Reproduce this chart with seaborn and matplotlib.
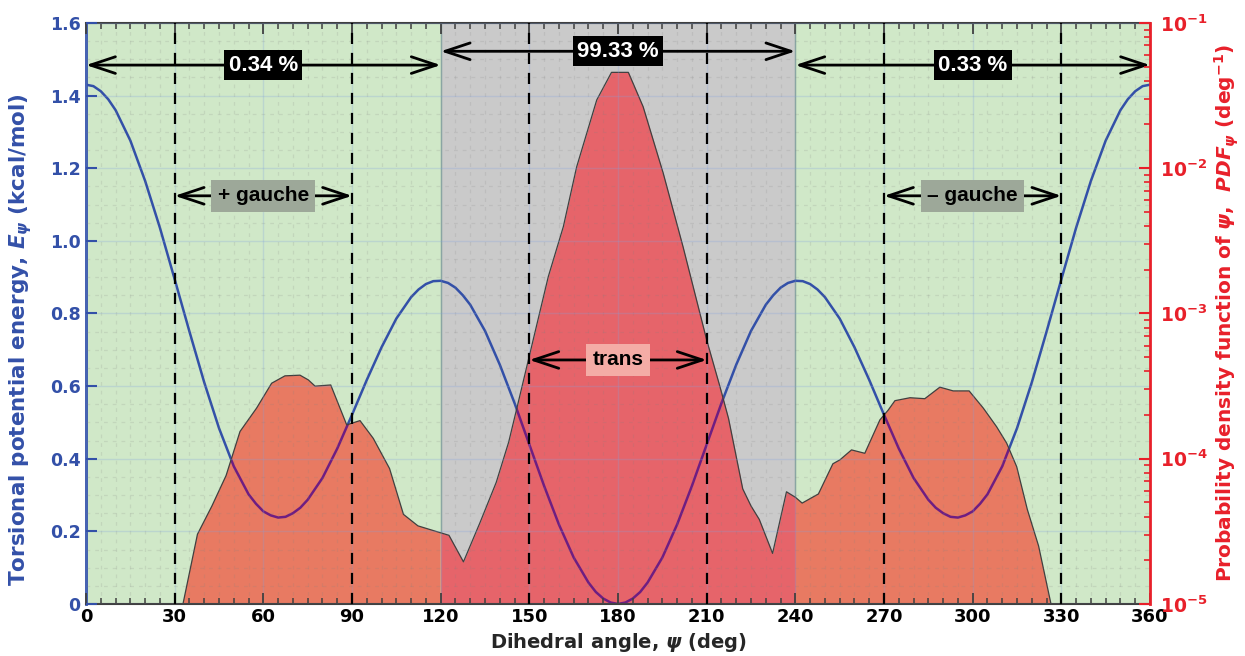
import numpy as np
import seaborn as sns
import matplotlib.pyplot as plt
from matplotlib.ticker import MultipleLocator, FuncFormatter, NullFormatter, LogLocator

sns.set_style('white')
plt.rcParams['font.family'] = ['DejaVu Sans']
plt.rcParams['font.weight'] = 'bold'
plt.rcParams['axes.labelweight'] = 'bold'
plt.rcParams['mathtext.fontset'] = 'custom'
plt.rcParams['mathtext.rm'] = 'DejaVu Sans:bold'
plt.rcParams['mathtext.it'] = 'DejaVu Sans:italic:bold'
plt.rcParams['mathtext.bf'] = 'DejaVu Sans:bold'

# torsional potential energy (kcal/mol)
angle_e = [0, 2.5, 5, 7.5, 10, 15, 20, 25, 30, 35, 40, 45, 50, 55, 57.5, 60, 62.5, 65,
           67.5, 70, 72.5, 75, 80, 85, 90, 95, 100, 105, 110, 112.5, 115, 117.5, 120,
           122.5, 125, 127.5, 130, 135, 140, 145, 150, 155, 160, 165, 170, 172.5, 175,
           177.5, 180,
           182.5, 185, 187.5, 190, 195, 200, 205, 210, 215, 220, 225, 230, 232.5, 235,
           237.5, 240, 242.5, 245, 247.5, 250, 255, 260, 265, 270, 275, 280, 285,
           287.5, 290, 292.5, 295, 297.5, 300, 302.5, 305, 310, 315, 320, 325, 330,
           335, 340, 345, 350, 352.5, 355, 357.5, 360]
energy = [1.430, 1.426, 1.412, 1.390, 1.360, 1.276, 1.165, 1.036, 0.894, 0.750, 0.610,
          0.484, 0.379, 0.302, 0.276, 0.255, 0.244, 0.238, 0.240, 0.250, 0.265, 0.287,
          0.347, 0.428, 0.521, 0.617, 0.707, 0.786, 0.845, 0.866, 0.881, 0.889, 0.890,
          0.884, 0.871, 0.850, 0.824, 0.752, 0.659, 0.553, 0.439, 0.325, 0.219, 0.128,
          0.059, 0.033, 0.015, 0.004, 0.000,
          0.004, 0.015, 0.033, 0.059, 0.128, 0.219, 0.325, 0.439, 0.553, 0.659, 0.752,
          0.824, 0.850, 0.871, 0.884, 0.890, 0.889, 0.881, 0.866, 0.845, 0.786, 0.707,
          0.617, 0.521, 0.428, 0.347, 0.287, 0.265, 0.250, 0.240, 0.238, 0.244, 0.255,
          0.276, 0.302, 0.379, 0.484, 0.610, 0.750, 0.894, 1.036, 1.165, 1.276, 1.360,
          1.390, 1.412, 1.426, 1.430]

# probability density of psi (deg^-1)
angle_p = [32.8, 37.7, 42.6, 47.4, 52.1, 57.7, 62.8, 67.3, 72.4, 75.2, 77.5, 82.8,
           88.2, 92.7, 97.2, 102.7, 107.4, 112.3, 120.0, 122.8, 127.7, 133.3, 138.8,
           143.0, 145.8, 150.2, 156.4, 161.5, 166.0, 172.8, 177.8, 183.5, 188.5,
           195.3, 202.0, 210.0, 214.5, 217.4, 222.2, 225.0, 227.8, 232.3, 237.0,
           240.0, 242.3, 247.8, 252.7, 255.1, 259.0, 263.5, 268.6, 271.4, 273.7,
           278.8, 283.8, 288.9, 293.4, 298.8, 303.6, 308.1, 311.5, 314.9, 318.5,
           322.3, 326.5]
pdf = [1.0e-5, 3.02e-5, 4.73e-5, 7.67e-5, 1.54e-4, 2.23e-4, 3.31e-4, 3.72e-4, 3.76e-4,
       3.49e-4, 3.16e-4, 3.22e-4, 1.71e-4, 1.83e-4, 1.38e-4, 8.56e-5, 4.14e-5, 3.45e-5,
       3.09e-5, 2.97e-5, 1.95e-5, 3.63e-5, 6.88e-5, 1.30e-4, 2.24e-4, 5.31e-4, 1.79e-3,
       3.96e-3, 1.02e-2, 2.95e-2, 4.57e-2, 4.57e-2, 2.65e-2, 9.23e-3, 2.88e-3, 6.57e-4,
       3.13e-4, 1.89e-4, 6.20e-5, 4.73e-5, 3.82e-5, 2.23e-5, 5.92e-5, 5.43e-5, 4.95e-5,
       5.72e-5, 9.23e-5, 9.83e-5, 1.15e-4, 1.09e-4, 1.85e-4, 2.16e-4, 2.51e-4, 2.63e-4,
       2.59e-4, 3.11e-4, 2.93e-4, 2.93e-4, 2.23e-4, 1.66e-4, 1.28e-4, 8.81e-5, 4.47e-5,
       2.51e-5, 1.0e-5]

region_edges = [0, 120, 240, 360]
region_share = ['0.34 %', '99.33 %', '0.33 %']
state_bounds = [(30, 90), (150, 210), (270, 330)]
state_names = ['+ gauche', 'trans', '\u2013 gauche']

blue = '#3350A8'
red = '#E8202A'
green_bg = '#D0E8C8'
gray_bg = '#CACACA'
label_font = ['Liberation Sans', 'DejaVu Sans']

fig = plt.figure(figsize=(12.45, 6.56), dpi=100)
ax = fig.add_axes([0.0691, 0.0793, 0.8546, 0.8857])
ax2 = ax.twinx()
ax2.set_yscale('log')
ax2.set_ylim(1e-5, 1e-1)
ax.set_xlim(0, 360)
ax.set_ylim(0, 1.6)

# background regions
ax.axvspan(0, 120, color=green_bg, lw=0, zorder=0)
ax.axvspan(120, 240, color=gray_bg, lw=0, zorder=0)
ax.axvspan(240, 360, color=green_bg, lw=0, zorder=0)
for xe in [120, 240]:
    ax.axvline(xe, color='#8FA88F', lw=1, zorder=0.6)

# energy curve
sns.lineplot(x=angle_e, y=energy, ax=ax, color=blue, lw=1.8, zorder=1.8,
             solid_joinstyle='round')

# pdf area, drawn on ax with the log axis transform
xp = np.array(angle_p)
yp = np.array(pdf)
in_green = (xp <= 120) | (xp >= 240)
in_gray = (xp >= 120) & (xp <= 240)
ax.fill_between(xp, yp, 1e-5, where=in_green, color='#E87A62', lw=0,
                transform=ax2.transData, zorder=2)
ax.fill_between(xp, yp, 1e-5, where=in_gray, color='#E6646A', lw=0,
                transform=ax2.transData, zorder=2)
clip = ax.fill_between(xp, yp, 1e-5, color='none', lw=0, transform=ax2.transData)
clip_path = clip.get_paths()[0]
ax.plot(xp, yp, color='#404040', lw=0.9, transform=ax2.transData, zorder=2.2)
purple, = ax.plot(angle_e, energy, color='#6E1E82', lw=1.8, zorder=2.1,
                  solid_joinstyle='round')
purple.set_clip_path(clip_path, ax2.transData)
clip.remove()

# grid
ax.set_axisbelow(False)
ax.xaxis.set_major_locator(MultipleLocator(30))
ax.xaxis.set_minor_locator(MultipleLocator(5))
ax.yaxis.set_major_locator(MultipleLocator(0.2))
ax.yaxis.set_minor_locator(MultipleLocator(0.05))
ax.grid(which='major', color='#7FA0E0', alpha=0.25, lw=1)
ax.grid(which='minor', color='#808080', alpha=0.17, ls=(0, (3, 4)), lw=0.9)

# state boundaries
for a, b in state_bounds:
    for xv in (a, b):
        ax.axvline(xv, color='k', ls=(0, (5, 4)), lw=1.6, zorder=3)

arrow = dict(arrowstyle='<->,head_length=0.9,head_width=0.3', color='k', lw=2,
             shrinkA=0, shrinkB=0, mutation_scale=20)

# population shares
share_y = [1.484, 1.522, 1.484]
for i, txt in enumerate(region_share):
    x0, x1 = region_edges[i], region_edges[i + 1]
    ax.annotate('', xy=(x0, share_y[i]), xytext=(x1, share_y[i]), arrowprops=arrow, zorder=4)
    ax.text((x0 + x1) / 2, share_y[i], txt, color='white', fontsize=16, fontweight='bold',
            family=label_font, ha='center', va='center', zorder=6,
            bbox=dict(boxstyle='square,pad=0.2', fc='black', ec='none'))

# conformer labels
state_y = [1.124, 0.672, 1.124]
state_box = ['#9DA899', '#F4ACA6', '#9DA899']
for (a, b), name, yv, fc in zip(state_bounds, state_names, state_y, state_box):
    ax.annotate('', xy=(a, yv), xytext=(b, yv), arrowprops=arrow, zorder=4)
    ax.text((a + b) / 2, yv, name, color='black', fontsize=15, fontweight='bold',
            family=label_font, ha='center', va='center', zorder=6,
            bbox=dict(boxstyle='square,pad=0.3', fc=fc, ec='none'))

# axes styling
ax.xaxis.set_major_formatter(FuncFormatter(lambda v, p: '%d' % v))
ax.yaxis.set_major_formatter(FuncFormatter(lambda v, p: '0' if abs(v) < 1e-9 else '%.1f' % v))
ax.tick_params(axis='x', which='major', direction='in', length=8, width=1.3,
               color='#404040', labelcolor='black', labelsize=13, top=True, bottom=True, pad=3)
ax.tick_params(axis='x', which='minor', direction='in', length=4, width=1.1,
               color='#404040', top=True, bottom=True)
ax.tick_params(axis='y', which='major', direction='in', length=8, width=1.5,
               color=blue, labelcolor=blue, labelsize=12.5, left=True, right=False, pad=4)
ax.tick_params(axis='y', which='minor', length=0, left=False, right=False)
for s in ['top', 'bottom']:
    ax.spines[s].set_color('#404040')
    ax.spines[s].set_linewidth(1.5)
ax.spines['left'].set_color(blue)
ax.spines['left'].set_linewidth(2)
ax.spines['right'].set_visible(False)

for s in ['left', 'top', 'bottom']:
    ax2.spines[s].set_visible(False)
ax2.spines['right'].set_color(red)
ax2.spines['right'].set_linewidth(2)
ax2.yaxis.set_major_locator(LogLocator(base=10, numticks=10))
ax2.yaxis.set_minor_locator(LogLocator(base=10, subs=np.arange(2, 10), numticks=10))
ax2.yaxis.set_major_formatter(FuncFormatter(lambda v, p: r'$\mathbf{10^{%d}}$' % round(np.log10(v))))
ax2.yaxis.set_minor_formatter(NullFormatter())
ax2.tick_params(axis='y', which='major', direction='in', length=8, width=1.5,
                color=red, labelcolor=red, labelsize=13.5, pad=7)
ax2.tick_params(axis='y', which='minor', direction='in', length=4, width=1.2, color=red)

ax.set_xlabel(r'Dihedral angle, $\psi$ (deg)', fontsize=14, fontweight='bold')
ax.xaxis.set_label_coords(0.5, -0.047)
ax.set_ylabel(r'Torsional potential energy, $E_{\psi}$ (kcal/mol)', fontsize=15.5,
              fontweight='bold', color=blue)
ax.yaxis.set_label_coords(-0.049, 0.455)
ax2.set_ylabel(r'Probability density function of $\psi$,  $PDF_{\psi}$ (deg$^{-1}$)',
               fontsize=14.5, fontweight='bold', color=red)
ax2.yaxis.set_label_coords(1.059, 0.5)

fig.savefig('out.png', dpi=100)
